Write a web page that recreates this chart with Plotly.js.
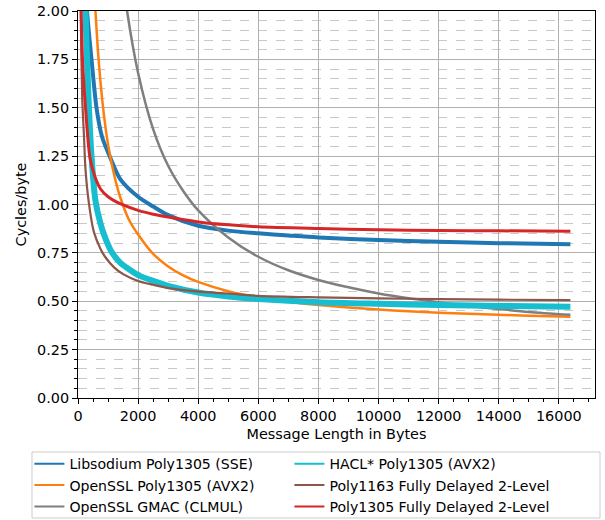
<!DOCTYPE html>
<html>
<head>
<meta charset="utf-8">
<script src="https://cdn.plot.ly/plotly-3.0.1.min.js"></script>
<style>html,body{margin:0;padding:0;background:#fff;}#chart{width:605px;height:520px;}</style>
</head>
<body>
<div id="chart"></div>
<script>
// Message length (bytes) and cycles/byte readings, per series
const seriesNames = [
  "Libsodium Poly1305 (SSE)",
  "OpenSSL Poly1305 (AVX2)",
  "OpenSSL GMAC (CLMUL)",
  "HACL* Poly1305 (AVX2)",
  "Poly1163 Fully Delayed 2-Level",
  "Poly1305 Fully Delayed 2-Level"
];
const seriesColors = ["#1f77b4", "#ff7f0e", "#7f7f7f", "#17becf", "#8c564b", "#d62728"];

const libsodiumX = [200, 300, 450, 615, 800, 1079, 1411, 2000, 2500, 3000, 4000, 5000, 6000, 7000, 8000, 10000, 12000, 14000, 16384];
const libsodiumY = [2.30, 2.00, 1.75, 1.50, 1.35, 1.24, 1.13, 1.04, 0.99, 0.945, 0.89, 0.865, 0.851, 0.84, 0.83, 0.816, 0.807, 0.80, 0.795];

const opensslAvx2X = [400, 500, 581, 700, 850, 1000, 1200, 1400, 1700, 2000, 2500, 3000, 3500, 4000, 5000, 6000, 7000, 8000, 9000, 10000, 11000, 12000, 13000, 14000, 15000, 16384];
const opensslAvx2Y = [2.74, 2.26, 2.00, 1.72, 1.48, 1.31, 1.155, 1.04, 0.92, 0.845, 0.745, 0.68, 0.634, 0.60, 0.552, 0.52, 0.498, 0.481, 0.468, 0.457, 0.448, 0.441, 0.435, 0.430, 0.425, 0.42];

const gmacX = [1000, 1400, 1633, 2000, 2500, 3000, 3500, 4000, 5000, 6000, 7000, 8000, 9000, 10000, 11000, 12000, 13000, 14000, 15000, 16384];
const gmacY = [3.10, 2.29, 2.00, 1.68, 1.39, 1.20, 1.07, 0.97, 0.83, 0.73, 0.66, 0.61, 0.572, 0.54, 0.515, 0.495, 0.475, 0.46, 0.445, 0.43];

const haclX = [200, 250, 350, 450, 580, 750, 900, 1100, 1400, 1750, 2000, 2500, 3000, 4000, 5000, 6000, 8000, 10000, 12000, 14000, 16384];
const haclY = [2.40, 2.00, 1.55, 1.25, 1.02, 0.90, 0.83, 0.76, 0.70, 0.66, 0.635, 0.605, 0.58, 0.545, 0.525, 0.512, 0.495, 0.487, 0.481, 0.476, 0.472];

const poly1163X = [70, 90, 140, 200, 250, 360, 525, 750, 900, 1200, 1500, 2000, 2500, 3000, 4000, 5000, 6000, 8000, 10000, 12000, 14000, 16384];
const poly1163Y = [2.20, 2.00, 1.55, 1.35, 1.18, 1.01, 0.86, 0.77, 0.73, 0.675, 0.64, 0.605, 0.585, 0.568, 0.55, 0.54, 0.528, 0.52, 0.515, 0.511, 0.508, 0.506];

const poly1305X = [80, 100, 150, 250, 400, 550, 750, 1000, 1200, 1400, 2000, 2500, 3000, 4000, 5000, 6000, 8000, 10000, 12000, 14000, 16384];
const poly1305Y = [2.30, 2.05, 1.75, 1.50, 1.24, 1.15, 1.08, 1.04, 1.02, 1.005, 0.97, 0.95, 0.935, 0.91, 0.895, 0.885, 0.876, 0.869, 0.866, 0.864, 0.862];

const xTickVals = [0, 2000, 4000, 6000, 8000, 10000, 12000, 14000, 16000];
const yTickVals = [0, 0.25, 0.5, 0.75, 1.0, 1.25, 1.5, 1.75, 2.0];

const xs = [libsodiumX, opensslAvx2X, gmacX, haclX, poly1163X, poly1305X];
const ys = [libsodiumY, opensslAvx2Y, gmacY, haclY, poly1163Y, poly1305Y];
const widths = [4, 2.5, 2.5, 6, 2.2, 3];
const ranks = [1, 3, 5, 2, 4, 6];

const traces = seriesNames.map((n, i) => ({
  type: "scatter", mode: "lines", name: n,
  x: xs[i], y: ys[i],
  line: {color: seriesColors[i], width: widths[i], shape: "spline", smoothing: 0.8},
  legendrank: ranks[i]
}));
const font = {family: "DejaVu Sans, sans-serif", size: 14.4, color: "#000"};
const legendFont = {family: "DejaVu Sans, sans-serif", size: 14.1, color: "#000"};

const layout = {
  width: 605, height: 520,
  margin: {l: 78, r: 10, t: 11, b: 122, autoexpand: false},
  paper_bgcolor: "#fff", plot_bgcolor: "#fff",
  font: font,
  showlegend: true,
  legend: {
    orientation: "h", x: -0.094, xanchor: "left", y: -0.1295, yanchor: "top",
    entrywidth: 215, entrywidthmode: "pixels",
    borderwidth: 0, bgcolor: "rgba(0,0,0,0)",
    font: legendFont, tracegroupgap: 0, itemwidth: 30
  },
  shapes: [{
    type: "rect", xref: "paper", yref: "paper",
    x0: -0.089, x1: 1.0097, y0: -0.310, y1: -0.1395,
    line: {color: "#cccccc", width: 1}, fillcolor: "rgba(0,0,0,0)", layer: "below"
  }],
  xaxis: {
    range: [0, 17203], tickvals: xTickVals, tickformat: "d",
    ticks: "outside", ticklen: 5, tickcolor: "#000", tickwidth: 1,
    showline: true, linecolor: "#000", linewidth: 1, mirror: true,
    showgrid: true, gridcolor: "#b0b0b0", gridwidth: 1,
    zeroline: false,
    minor: {dtick: 500, tick0: 0, ticks: "outside", ticklen: 3, tickcolor: "#000", showgrid: false},
    title: {text: "Message Length in Bytes", font: font, standoff: 5}
  },
  yaxis: {
    range: [0, 2], tickvals: yTickVals, tickformat: ".2f",
    ticks: "outside", ticklen: 5, tickcolor: "#000", tickwidth: 1,
    showline: true, linecolor: "#000", linewidth: 1, mirror: true,
    showgrid: true, gridcolor: "#b0b0b0", gridwidth: 1,
    zeroline: false,
    minor: {dtick: 0.05, tick0: 0, ticks: "outside", ticklen: 3, tickcolor: "#000", showgrid: true, gridcolor: "#c8c8c8", griddash: "dash", gridwidth: 1},
    title: {text: "Cycles/byte", font: font, standoff: 7}
  }
};

Plotly.newPlot("chart", traces, layout, {displayModeBar: false, staticPlot: true}).then(gd => {
  // make legend line samples a uniform matplotlib-like width
  gd.querySelectorAll(".legend .legendlines path").forEach(p => { p.style.strokeWidth = "2px"; });
});
</script>
</body>
</html>
